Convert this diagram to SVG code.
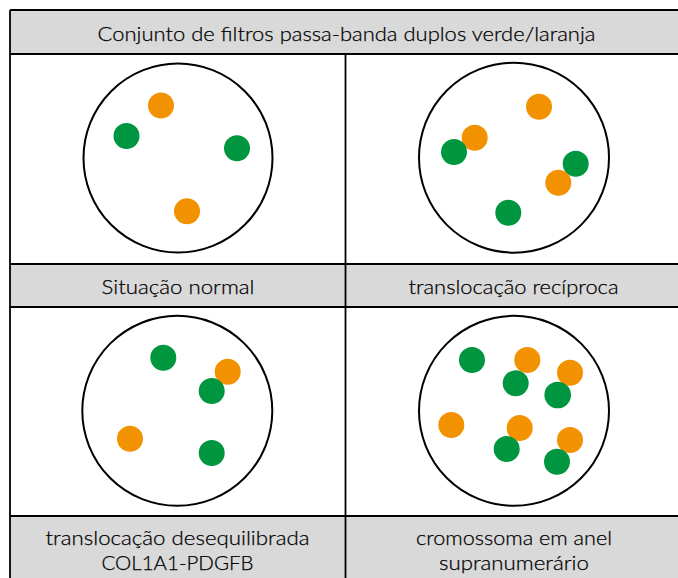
<svg xmlns="http://www.w3.org/2000/svg" width="678" height="578" viewBox="0 0 678 578">
<style>
.bg{fill:#ffffff}
.hd{fill:#d9d9d9}
.ln{stroke:#000;stroke-width:1.8;fill:none}
.cell{fill:none;stroke:#000;stroke-width:2}
.o{fill:#f39200}
.g{fill:#009640}
text{font-family:Lato,"Noto Sans","DejaVu Sans",sans-serif;font-size:20px;font-weight:300;fill:#000000;stroke:#000000;stroke-width:0.25;text-anchor:middle}
</style>
<rect class="bg" x="0" y="0" width="678" height="578"/>
<g id="header">
<rect class="hd" x="10" y="10" width="673" height="44"/>
<text x="346.5" y="40.5" textLength="498" lengthAdjust="spacingAndGlyphs">Conjunto de filtros passa-banda duplos verde/laranja</text>
</g>
<g id="label-normal">
<rect class="hd" x="10" y="264" width="335.5" height="43"/>
<text x="178" y="294" textLength="153" lengthAdjust="spacingAndGlyphs">Situação normal</text>
</g>
<g id="label-reciproca">
<rect class="hd" x="345.5" y="264" width="337.5" height="43"/>
<text x="513.5" y="294" textLength="210" lengthAdjust="spacingAndGlyphs">translocação recíproca</text>
</g>
<g id="label-desequilibrada">
<rect class="hd" x="10" y="516" width="335.5" height="62"/>
<text x="177.5" y="545" textLength="264" lengthAdjust="spacingAndGlyphs">translocação desequilibrada</text>
<text x="177.5" y="570" textLength="152" lengthAdjust="spacingAndGlyphs">COL1A1-PDGFB</text>
</g>
<g id="label-anel">
<rect class="hd" x="345.5" y="516" width="337.5" height="62"/>
<text x="514" y="545" textLength="196" lengthAdjust="spacingAndGlyphs">cromossoma em anel</text>
<text x="514" y="570" textLength="150" lengthAdjust="spacingAndGlyphs">supranumerário</text>
</g>
<g id="grid">
<line class="ln" x1="10" y1="10" x2="683" y2="10"/>
<line class="ln" x1="10" y1="54" x2="683" y2="54"/>
<line class="ln" x1="10" y1="264" x2="683" y2="264"/>
<line class="ln" x1="10" y1="307" x2="683" y2="307"/>
<line class="ln" x1="10" y1="516" x2="683" y2="516"/>
<line class="ln" x1="10" y1="10" x2="10" y2="578"/>
<line class="ln" x1="345.5" y1="54" x2="345.5" y2="578"/>
</g>
<g id="cell-normal">
<circle class="cell" cx="178" cy="158" r="94.5"/>
<circle class="o" cx="161" cy="105.5" r="13"/>
<circle class="g" cx="126.5" cy="136" r="13"/>
<circle class="g" cx="237" cy="148.3" r="13"/>
<circle class="o" cx="187" cy="211.3" r="13"/>
</g>
<g id="cell-reciproca">
<circle class="cell" cx="514" cy="157.7" r="95"/>
<circle class="o" cx="539" cy="106.7" r="13"/>
<circle class="o" cx="474.7" cy="137.7" r="13"/>
<circle class="g" cx="454" cy="152" r="13"/>
<circle class="g" cx="575.7" cy="163.7" r="13"/>
<circle class="o" cx="558.3" cy="182.7" r="13"/>
<circle class="g" cx="508.3" cy="212.7" r="13"/>
</g>
<g id="cell-desequilibrada">
<circle class="cell" cx="177.3" cy="410.8" r="95"/>
<circle class="g" cx="163.3" cy="357.7" r="13"/>
<circle class="o" cx="227.7" cy="371.7" r="13"/>
<circle class="g" cx="211.7" cy="391" r="13"/>
<circle class="o" cx="130" cy="438.7" r="13"/>
<circle class="g" cx="211.7" cy="453" r="13"/>
</g>
<g id="cell-anel">
<circle class="cell" cx="514" cy="410.8" r="95"/>
<circle class="g" cx="472" cy="360" r="13"/>
<circle class="o" cx="527.3" cy="360" r="13"/>
<circle class="o" cx="570" cy="372.7" r="13"/>
<circle class="g" cx="515.7" cy="383.3" r="13"/>
<circle class="g" cx="557.7" cy="395" r="13.3"/>
<circle class="o" cx="451.3" cy="425" r="13"/>
<circle class="o" cx="519.7" cy="428" r="13"/>
<circle class="o" cx="570" cy="440" r="13"/>
<circle class="g" cx="506.7" cy="449" r="13"/>
<circle class="g" cx="557" cy="461.7" r="13"/>
</g>
<g id="connectors"/>
</svg>
